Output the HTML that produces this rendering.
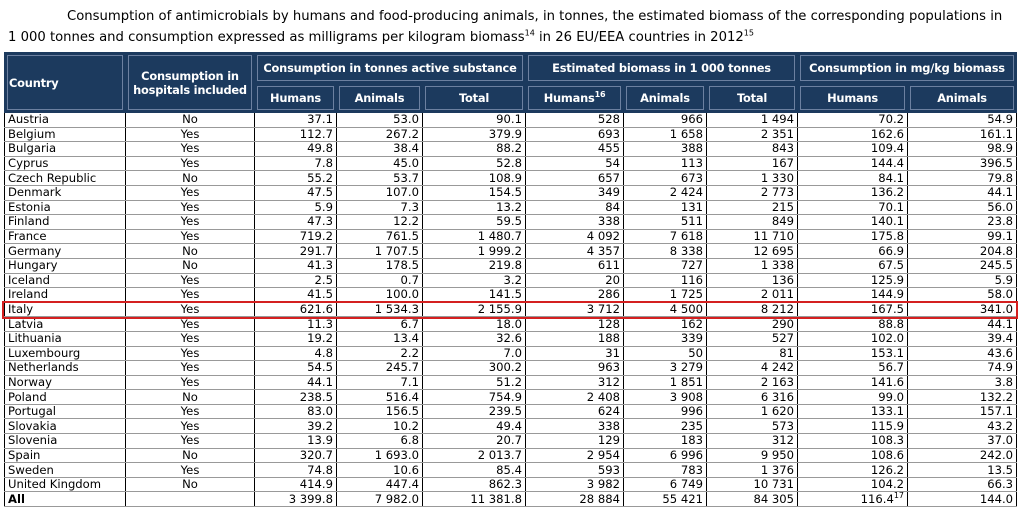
<!DOCTYPE html>
<html><head><meta charset="utf-8"><style>
body{margin:0;width:1019px;height:510px;background:#fff;font-family:"DejaVu Sans","Liberation Sans",sans-serif;overflow:hidden;position:relative}
.t{position:absolute;left:8px;top:6px;width:1011px;font-size:13.2px;line-height:21px;color:#000;text-indent:59px;white-space:nowrap}
sup{font-size:8px;line-height:0}
table{position:absolute;left:4px;top:52px;width:1012px;border-collapse:collapse;table-layout:fixed;font-size:11.6px}
th{background:#1c3a5e;color:#fff;font-weight:bold;border:1px solid #1c3a5e;box-shadow:inset 0 0 0 2px #1c3a5e,inset 0 0 0 3px #6c80a0;padding:0;font-size:11.4px;line-height:14px;white-space:nowrap;letter-spacing:-0.2px}
td{border-left:1px solid #000;border-right:1px solid #000;border-bottom:1px solid #999;padding:0 3px;height:13.6px;line-height:13px;white-space:nowrap}
td{text-align:right}
td:first-child{text-align:left}
td:nth-child(2){text-align:center}
tr.all td{font-weight:bold}
tr.all td:nth-child(n+3){font-weight:normal}
.red{position:absolute;left:2px;top:301px;width:1012px;height:14px;border:2px solid #d42020}
</style></head><body>
<div class="t">Consumption of antimicrobials by humans and food-producing animals, in tonnes, the estimated biomass of the corresponding populations in<br><span style="display:inline-block;margin-left:-59px">1 000 tonnes and consumption expressed as milligrams per kilogram biomass<sup>14</sup> in 26 EU/EEA countries in 2012<sup>15</sup></span></div>
<table>
<colgroup><col style="width:121px"><col style="width:129px"><col style="width:82px"><col style="width:86px"><col style="width:103px"><col style="width:98px"><col style="width:83px"><col style="width:91px"><col style="width:110px"><col style="width:109px"></colgroup>
<tr style="height:31px"><th rowspan="2" style="text-align:left;padding-left:4px">Country</th><th rowspan="2" style="white-space:normal">Consumption in hospitals included</th><th colspan="3">Consumption in tonnes active substance</th><th colspan="3">Estimated biomass in 1 000 tonnes</th><th colspan="2">Consumption in mg/kg biomass</th></tr>
<tr style="height:29px"><th>Humans</th><th>Animals</th><th>Total</th><th>Humans<sup>16</sup></th><th>Animals</th><th>Total</th><th>Humans</th><th>Animals</th></tr>
<tr><td>Austria</td><td>No</td><td>37.1</td><td>53.0</td><td>90.1</td><td>528</td><td>966</td><td>1 494</td><td>70.2</td><td>54.9</td></tr>
<tr><td>Belgium</td><td>Yes</td><td>112.7</td><td>267.2</td><td>379.9</td><td>693</td><td>1 658</td><td>2 351</td><td>162.6</td><td>161.1</td></tr>
<tr><td>Bulgaria</td><td>Yes</td><td>49.8</td><td>38.4</td><td>88.2</td><td>455</td><td>388</td><td>843</td><td>109.4</td><td>98.9</td></tr>
<tr><td>Cyprus</td><td>Yes</td><td>7.8</td><td>45.0</td><td>52.8</td><td>54</td><td>113</td><td>167</td><td>144.4</td><td>396.5</td></tr>
<tr><td>Czech Republic</td><td>No</td><td>55.2</td><td>53.7</td><td>108.9</td><td>657</td><td>673</td><td>1 330</td><td>84.1</td><td>79.8</td></tr>
<tr><td>Denmark</td><td>Yes</td><td>47.5</td><td>107.0</td><td>154.5</td><td>349</td><td>2 424</td><td>2 773</td><td>136.2</td><td>44.1</td></tr>
<tr><td>Estonia</td><td>Yes</td><td>5.9</td><td>7.3</td><td>13.2</td><td>84</td><td>131</td><td>215</td><td>70.1</td><td>56.0</td></tr>
<tr><td>Finland</td><td>Yes</td><td>47.3</td><td>12.2</td><td>59.5</td><td>338</td><td>511</td><td>849</td><td>140.1</td><td>23.8</td></tr>
<tr><td>France</td><td>Yes</td><td>719.2</td><td>761.5</td><td>1 480.7</td><td>4 092</td><td>7 618</td><td>11 710</td><td>175.8</td><td>99.1</td></tr>
<tr><td>Germany</td><td>No</td><td>291.7</td><td>1 707.5</td><td>1 999.2</td><td>4 357</td><td>8 338</td><td>12 695</td><td>66.9</td><td>204.8</td></tr>
<tr><td>Hungary</td><td>No</td><td>41.3</td><td>178.5</td><td>219.8</td><td>611</td><td>727</td><td>1 338</td><td>67.5</td><td>245.5</td></tr>
<tr><td>Iceland</td><td>Yes</td><td>2.5</td><td>0.7</td><td>3.2</td><td>20</td><td>116</td><td>136</td><td>125.9</td><td>5.9</td></tr>
<tr><td>Ireland</td><td>Yes</td><td>41.5</td><td>100.0</td><td>141.5</td><td>286</td><td>1 725</td><td>2 011</td><td>144.9</td><td>58.0</td></tr>
<tr><td>Italy</td><td>Yes</td><td>621.6</td><td>1 534.3</td><td>2 155.9</td><td>3 712</td><td>4 500</td><td>8 212</td><td>167.5</td><td>341.0</td></tr>
<tr><td>Latvia</td><td>Yes</td><td>11.3</td><td>6.7</td><td>18.0</td><td>128</td><td>162</td><td>290</td><td>88.8</td><td>44.1</td></tr>
<tr><td>Lithuania</td><td>Yes</td><td>19.2</td><td>13.4</td><td>32.6</td><td>188</td><td>339</td><td>527</td><td>102.0</td><td>39.4</td></tr>
<tr><td>Luxembourg</td><td>Yes</td><td>4.8</td><td>2.2</td><td>7.0</td><td>31</td><td>50</td><td>81</td><td>153.1</td><td>43.6</td></tr>
<tr><td>Netherlands</td><td>Yes</td><td>54.5</td><td>245.7</td><td>300.2</td><td>963</td><td>3 279</td><td>4 242</td><td>56.7</td><td>74.9</td></tr>
<tr><td>Norway</td><td>Yes</td><td>44.1</td><td>7.1</td><td>51.2</td><td>312</td><td>1 851</td><td>2 163</td><td>141.6</td><td>3.8</td></tr>
<tr><td>Poland</td><td>No</td><td>238.5</td><td>516.4</td><td>754.9</td><td>2 408</td><td>3 908</td><td>6 316</td><td>99.0</td><td>132.2</td></tr>
<tr><td>Portugal</td><td>Yes</td><td>83.0</td><td>156.5</td><td>239.5</td><td>624</td><td>996</td><td>1 620</td><td>133.1</td><td>157.1</td></tr>
<tr><td>Slovakia</td><td>Yes</td><td>39.2</td><td>10.2</td><td>49.4</td><td>338</td><td>235</td><td>573</td><td>115.9</td><td>43.2</td></tr>
<tr><td>Slovenia</td><td>Yes</td><td>13.9</td><td>6.8</td><td>20.7</td><td>129</td><td>183</td><td>312</td><td>108.3</td><td>37.0</td></tr>
<tr><td>Spain</td><td>No</td><td>320.7</td><td>1 693.0</td><td>2 013.7</td><td>2 954</td><td>6 996</td><td>9 950</td><td>108.6</td><td>242.0</td></tr>
<tr><td>Sweden</td><td>Yes</td><td>74.8</td><td>10.6</td><td>85.4</td><td>593</td><td>783</td><td>1 376</td><td>126.2</td><td>13.5</td></tr>
<tr><td>United Kingdom</td><td>No</td><td>414.9</td><td>447.4</td><td>862.3</td><td>3 982</td><td>6 749</td><td>10 731</td><td>104.2</td><td>66.3</td></tr>
<tr class="all"><td>All</td><td></td><td>3 399.8</td><td>7 982.0</td><td>11 381.8</td><td>28 884</td><td>55 421</td><td>84 305</td><td>116.4<sup>17</sup></td><td>144.0</td></tr>
</table>
<div class="red"></div>
</body></html>
